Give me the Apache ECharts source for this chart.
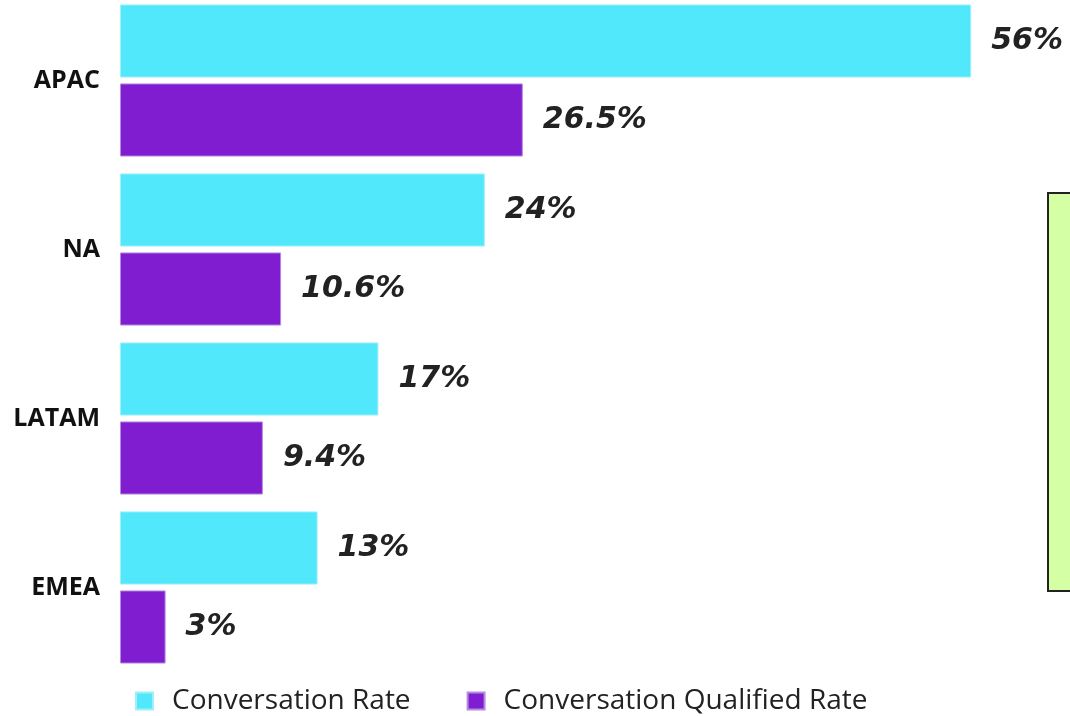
<!DOCTYPE html>
<html>
<head>
<meta charset="utf-8">
<script src="https://cdn.jsdelivr.net/npm/echarts@6/dist/echarts.min.js"></script>
<style>
  html, body { margin: 0; padding: 0; background: #fff; }
  #main { width: 1070px; height: 716px; }
</style>
</head>
<body>
<div id="main"></div>
<script>
// 数据
var regions = ['APAC', 'NA', 'LATAM', 'EMEA'];
var conversationRate = [56, 24, 17, 13];
var qualifiedRate = [26.5, 10.6, 9.4, 3];
var seriesNames = ['Conversation Rate', 'Conversation Qualified Rate'];

var myChart = echarts.init(document.getElementById('main'));

var labelStyle = {
    show: true,
    position: 'right',
    distance: 20,
    formatter: '{c}%',
    fontFamily: 'DejaVu Sans',
    fontStyle: 'italic',
    fontWeight: 'bold',
    fontSize: 30,
    color: '#222'
};

var option = {
    animation: false,
    grid: {
        left: 120,
        right: 38,
        top: -4,
        height: 676,
        outerBoundsMode: 'none',
        containLabel: false
    },
    legend: {
        bottom: -4,
        left: 130,
        itemWidth: 17,
        itemHeight: 17,
        itemGap: 56,
        icon: 'rect',
        textStyle: {
            fontFamily: 'Open Sans',
            fontSize: 28,
            color: '#222',
            padding: [0, 0, 0, 14]
        },
        data: seriesNames
    },
    xAxis: {
        type: 'value',
        min: 0,
        max: 60,
        show: false
    },
    yAxis: {
        type: 'category',
        inverse: true,
        data: regions,
        axisLine: { show: false },
        axisTick: { show: false },
        axisLabel: {
            margin: 20,
            fontFamily: 'Open Sans',
            fontWeight: 'bold',
            fontSize: 25,
            color: '#111'
        }
    },
    series: [
        {
            name: seriesNames[0],
            type: 'bar',
            data: conversationRate,
            barCategoryGap: '10%',
            barGap: '8%',
            itemStyle: { color: '#52E8FC', borderColor: '#9EEFF8', borderWidth: 1 },
            label: labelStyle
        },
        {
            name: seriesNames[1],
            type: 'bar',
            data: qualifiedRate,
            barCategoryGap: '10%',
            barGap: '8%',
            itemStyle: { color: '#801DD1', borderColor: '#B58CE0', borderWidth: 1 },
            label: labelStyle
        }
    ],
    graphic: [
        {
            type: 'rect',
            shape: { x: 1048, y: 193, width: 40, height: 398 },
            style: { fill: '#D5FFA4', stroke: '#222', lineWidth: 2 }
        }
    ]
};

myChart.setOption(option);
</script>
</body>
</html>
